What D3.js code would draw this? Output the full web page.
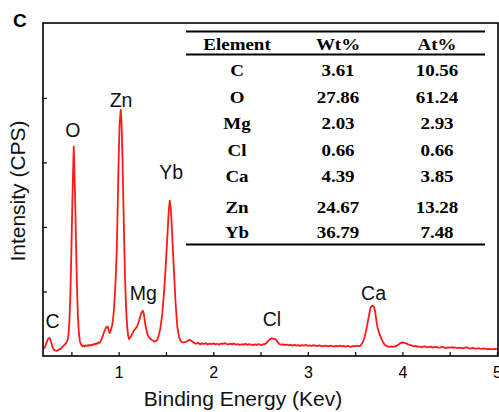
<!DOCTYPE html>
<html>
<head>
<meta charset="utf-8">
<script src="https://cdn.jsdelivr.net/npm/d3@7"></script>
<style>
  html, body { margin: 0; padding: 0; background: #fff; }
  svg { display: block; }
</style>
</head>
<body>
<svg id="chart" width="499" height="412"></svg>
<script>
// ---------------- data ----------------
const spectrum = [
[0.20,110],[0.21,120],[0.22,140],[0.23,175],[0.24,215],[0.25,255],[0.26,275],[0.27,280],[0.28,250],[0.29,195],
[0.30,140],[0.31,105],[0.32,90],[0.33,85],[0.34,78],[0.35,82],[0.36,95],[0.37,100],[0.38,115],[0.39,112],
[0.40,135],[0.41,150],[0.42,160],[0.43,178],[0.44,190],[0.45,215],[0.46,250],[0.47,330],
[0.48,560],[0.49,1000],[0.50,1620],[0.51,2350],[0.52,2980],[0.525,3244],[0.53,3010],[0.54,2420],[0.55,1680],
[0.56,1030],[0.57,590],[0.58,345],[0.59,230],[0.60,185],[0.61,168],[0.62,150],[0.63,160],[0.64,148],[0.65,165],
[0.66,155],[0.67,160],[0.68,172],[0.69,158],[0.70,168],[0.71,175],[0.72,165],[0.73,182],[0.74,178],[0.75,190],
[0.76,185],[0.77,200],[0.78,192],[0.79,210],[0.80,205],[0.81,230],[0.82,260],[0.83,300],[0.84,350],[0.85,385],
[0.86,420],[0.87,450],[0.88,440],[0.885,455],[0.89,420],[0.90,375],[0.905,355],[0.91,370],[0.92,420],[0.93,470],
[0.94,560],[0.95,720],[0.96,960],[0.97,1240],[0.98,1660],[0.99,2340],[1.00,3060],[1.01,3600],[1.022,3813],
[1.03,3640],[1.04,3100],[1.05,2380],[1.06,1660],[1.07,1080],[1.08,690],[1.09,450],[1.10,320],[1.11,262],
[1.12,285],[1.13,300],[1.14,335],[1.15,360],[1.16,395],[1.17,405],[1.18,430],[1.19,445],[1.20,480],[1.21,520],
[1.22,570],[1.23,620],[1.24,670],[1.255,702],[1.265,660],[1.275,560],[1.285,460],[1.30,360],[1.31,320],
[1.32,290],[1.33,270],[1.34,265],[1.35,248],[1.36,240],[1.37,232],[1.38,222],[1.39,230],[1.40,238],[1.41,255],
[1.42,300],[1.44,420],[1.46,640],[1.48,990],[1.50,1460],[1.52,1990],[1.53,2260],[1.54,2407],[1.55,2300],
[1.56,2050],[1.58,1450],[1.60,860],[1.62,450],[1.64,280],[1.66,225],[1.68,210],
[1.70,215],[1.72,225],[1.74,245],[1.75,250],[1.76,240],[1.78,225],[1.80,200],[1.82,190],[1.84,205],[1.86,180],
[1.88,195],[1.90,185],[1.92,200],[1.94,178],[1.96,192],[1.98,185],[2.00,198],[2.02,180],[2.04,190],[2.06,176],
[2.08,195],[2.10,185],[2.12,200],[2.14,188],[2.16,178],[2.18,192],[2.20,180],[2.22,195],[2.24,175],[2.26,185],
[2.28,170],[2.30,182],[2.32,176],[2.34,190],[2.36,172],[2.38,185],[2.40,178],[2.42,168],[2.44,180],[2.46,172],
[2.48,185],[2.50,170],[2.52,178],[2.54,182],[2.56,195],[2.58,230],[2.60,262],[2.62,275],[2.64,265],[2.66,258],
[2.68,215],[2.70,185],[2.72,175],[2.74,182],[2.76,168],[2.78,178],[2.80,165],[2.82,175],[2.84,160],[2.86,172],
[2.88,162],[2.90,170],[2.92,158],[2.94,168],[2.96,160],[2.98,172],[3.00,158],[3.02,165],[3.04,155],[3.06,168],
[3.08,160],[3.10,152],[3.12,165],[3.14,158],[3.16,150],[3.18,162],[3.20,155],[3.22,148],[3.24,160],[3.26,152],
[3.28,145],[3.30,158],[3.32,150],[3.34,162],[3.36,148],[3.38,155],[3.40,145],[3.42,158],[3.44,150],[3.46,142],
[3.48,155],[3.50,148],[3.52,160],[3.54,150],[3.56,165],[3.58,210],
[3.60,290],[3.62,420],[3.64,580],[3.66,730],[3.67,770],[3.685,778],[3.70,760],[3.71,700],[3.72,600],[3.73,500],
[3.74,420],[3.75,380],[3.76,330],[3.78,260],[3.80,200],[3.82,165],[3.84,150],[3.86,142],[3.88,150],[3.90,140],
[3.92,148],[3.94,160],[3.96,180],[3.98,200],[4.00,212],[4.02,205],[4.04,195],[4.06,180],[4.08,172],[4.10,160],
[4.12,150],[4.14,158],[4.16,140],[4.18,148],[4.20,135],[4.22,145],[4.24,150],[4.26,132],[4.28,140],[4.30,145],
[4.32,130],[4.34,138],[4.36,142],[4.38,128],[4.40,135],[4.42,145],[4.44,130],[4.46,122],[4.48,135],[4.50,128],
[4.52,138],[4.54,125],[4.56,132],[4.58,120],[4.60,130],[4.62,125],[4.64,118],[4.66,128],[4.68,135],[4.70,122],
[4.72,115],[4.74,125],[4.76,118],[4.78,112],[4.80,122],[4.82,115],[4.84,110],[4.86,118],[4.88,112],[4.90,105],
[4.92,112],[4.94,108],[4.96,102],[4.98,110],[5.00,106]
];

const peakNames  = ["C", "O", "Zn", "Mg", "Yb", "Cl", "Ca"];
const peakEnergy = [0.30, 0.515, 1.025, 1.26, 1.555, 2.62, 3.695];
const peakLabelY = [440, 3400, 3860, 870, 2740, 460, 870];

const tableHeader   = ["Element", "Wt%", "At%"];
const tableElements = ["C", "O", "Mg", "Cl", "Ca", "Zn", "Yb"];
const wtPercent     = ["3.61", "27.86", "2.03", "0.66", "4.39", "24.67", "36.79"];
const atPercent     = ["10.56", "61.24", "2.93", "0.66", "3.85", "13.28", "7.48"];

const xTickValues = [0.5, 1, 1.5, 2, 2.5, 3, 3.5, 4, 4.5, 5];
const xTickLabels = [1, 2, 3, 4, 5];
const yTickValues = [1000, 2000, 3000, 4000];

// ---------------- layout ----------------
const svg = d3.select("#chart");
const L = 43, R = 498, T = 23, B = 356;

const x = d3.scaleLinear().domain([0.2, 5.0]).range([L, 497]);
const y = d3.scaleLinear().domain([0, 5160]).range([B, T]);

const sans = "'Liberation Sans', Arial, Helvetica, sans-serif";
const serif = "'Liberation Serif', 'Times New Roman', serif";

// spectrum line
svg.append("clipPath").attr("id", "clip")
  .append("rect").attr("x", L).attr("y", T).attr("width", R - L).attr("height", B - T);

svg.append("path")
  .datum(spectrum)
  .attr("clip-path", "url(#clip)")
  .attr("fill", "none")
  .attr("stroke", "#ff1a1a")
  .attr("stroke-width", 1.8)
  .attr("stroke-linejoin", "round")
  .attr("d", d3.line().x(d => x(d[0])).y(d => y(d[1])));

// axes
const xAxis = d3.axisBottom(x)
  .tickValues(xTickValues)
  .tickSizeInner(-4).tickSizeOuter(0).tickPadding(11)
  .tickFormat(d => xTickLabels.includes(d) ? d3.format("d")(d) : "");
const gx = svg.append("g").attr("transform", `translate(0,${B})`).call(xAxis);
gx.select(".domain").remove();
gx.selectAll(".tick line").attr("stroke", "#000").attr("stroke-width", 1.2);
gx.selectAll(".tick text").attr("font-family", sans).attr("font-size", 16).attr("fill", "#000");

const yAxis = d3.axisLeft(y).tickValues(yTickValues)
  .tickSizeInner(-4).tickSizeOuter(0).tickFormat("");
const gy = svg.append("g").attr("transform", `translate(${L},0)`).call(yAxis);
gy.select(".domain").remove();
gy.selectAll(".tick line").attr("stroke", "#000").attr("stroke-width", 1.2);

// frame
svg.append("rect")
  .attr("x", L).attr("y", T).attr("width", R - L).attr("height", B - T)
  .attr("fill", "none").attr("stroke", "#000").attr("stroke-width", 1.6);

// axis titles
svg.append("text")
  .attr("x", 243).attr("y", 406).attr("text-anchor", "middle")
  .attr("font-family", sans).attr("font-size", 21).attr("fill", "#111")
  .text("Binding Energy (Kev)");
svg.append("text")
  .attr("transform", "translate(25,191) rotate(-90)").attr("text-anchor", "middle")
  .attr("font-family", sans).attr("font-size", 21).attr("fill", "#111")
  .text("Intensity (CPS)");

// panel label
svg.append("text")
  .attr("x", 13).attr("y", 27)
  .attr("font-family", sans).attr("font-weight", "bold").attr("font-size", 19)
  .text("C");

// peak labels
svg.append("g").selectAll("text")
  .data(peakNames)
  .join("text")
  .attr("x", (d, i) => x(peakEnergy[i]))
  .attr("y", (d, i) => y(peakLabelY[i]))
  .attr("text-anchor", "middle")
  .attr("font-family", sans).attr("font-size", 19.5).attr("fill", "#111")
  .text(d => d);

// table
const tbl = svg.append("g");
const tx0 = 186, tx1 = 485;
const colX = [237, 338, 437];
const headerY = 50;
const rowY = [76, 103, 129, 156, 182, 213, 238];
const hline = (yy, w) => tbl.append("line")
  .attr("x1", tx0).attr("x2", tx1).attr("y1", yy).attr("y2", yy)
  .attr("stroke", "#000").attr("stroke-width", w);
hline(31.5, 2);
hline(54.5, 2);
hline(244.5, 2);

const cellText = (str, cx, cy) => tbl.append("text")
  .attr("transform", `translate(${cx},${cy}) scale(1.15,1)`)
  .attr("text-anchor", "middle")
  .attr("font-family", serif).attr("font-weight", "bold").attr("font-size", 16.5)
  .attr("fill", "#000")
  .text(str);

tableHeader.forEach((h, j) => cellText(h, colX[j], headerY));
tableElements.forEach((e, i) => {
  cellText(e, colX[0], rowY[i]);
  cellText(wtPercent[i], colX[1], rowY[i]);
  cellText(atPercent[i], colX[2], rowY[i]);
});
</script>
</body>
</html>
